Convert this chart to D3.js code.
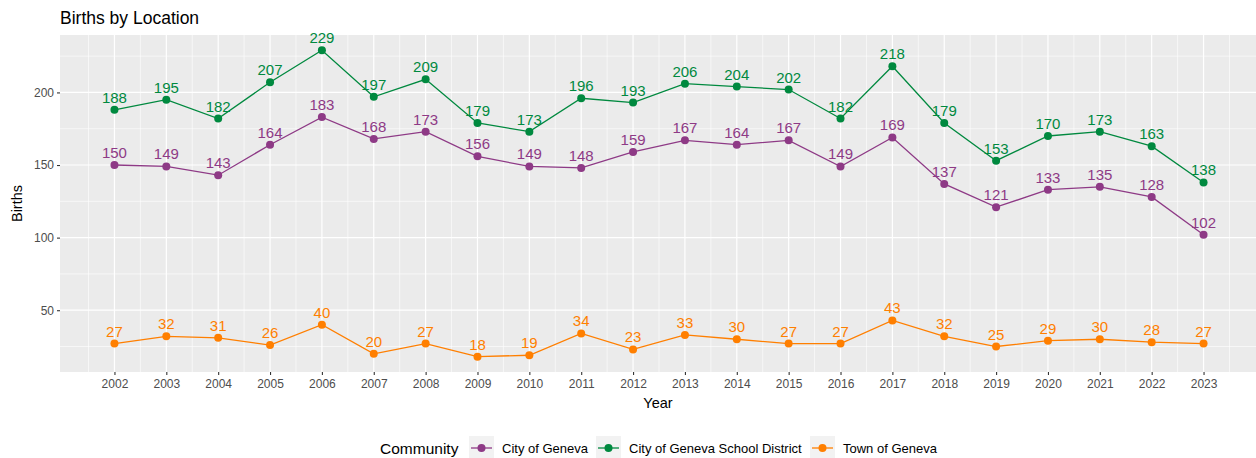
<!DOCTYPE html>
<html>
<head>
<meta charset="utf-8">
<script src="https://cdn.jsdelivr.net/npm/d3@7"></script>
<style>
  body { margin: 0; background: #fff; }
  text { font-family: "Liberation Sans", Arial, sans-serif; }
</style>
</head>
<body>
<svg id="chart" width="1256" height="458"></svg>
<script>
const width = 1256;
const height = 458;

const years = [2002, 2003, 2004, 2005, 2006, 2007, 2008, 2009, 2010, 2011, 2012,
               2013, 2014, 2015, 2016, 2017, 2018, 2019, 2020, 2021, 2022, 2023];
const cityBirths = [150, 149, 143, 164, 183, 168, 173, 156, 149, 148, 159,
                    167, 164, 167, 149, 169, 137, 121, 133, 135, 128, 102];
const districtBirths = [188, 195, 182, 207, 229, 197, 209, 179, 173, 196, 193,
                        206, 204, 202, 182, 218, 179, 153, 170, 173, 163, 138];
const townBirths = [27, 32, 31, 26, 40, 20, 27, 18, 19, 34, 23,
                    33, 30, 27, 27, 43, 32, 25, 29, 30, 28, 27];
const seriesNames = ["City of Geneva", "City of Geneva School District", "Town of Geneva"];
const seriesColors = ["#8e3a86", "#00893f", "#ff7f00"];
const yTicks = [50, 100, 150, 200];

const series = [cityBirths, districtBirths, townBirths].map((vals, i) => ({
    name: seriesNames[i],
    color: seriesColors[i],
    values: years.map((y, j) => ({ year: y, value: vals[j] }))
}));

const panel = { left: 60, right: 1258, top: 35, bottom: 372 };
const svg = d3.select("#chart");

// scales with ggplot style 5% expansion
const allVals = [].concat(cityBirths, districtBirths, townBirths);
const yMin = d3.min(allVals), yMax = d3.max(allVals);
const yPad = (yMax - yMin) * 0.05;
const y = d3.scaleLinear()
    .domain([yMin - yPad, yMax + yPad])
    .range([panel.bottom, panel.top]);
const xPad = (years[years.length - 1] - years[0]) * 0.05;
const x = d3.scaleLinear()
    .domain([years[0] - xPad, years[years.length - 1] + xPad])
    .range([panel.left, panel.right]);

// panel background
svg.append("rect")
    .attr("x", panel.left)
    .attr("y", panel.top)
    .attr("width", panel.right - panel.left)
    .attr("height", panel.bottom - panel.top)
    .attr("fill", "#ebebeb");

const grid = svg.append("g");
// minor gridlines
const yMinor = [25, 75, 125, 175, 225];
grid.selectAll(".ymin").data(yMinor).enter().append("line")
    .attr("x1", panel.left).attr("x2", panel.right)
    .attr("y1", d => y(d)).attr("y2", d => y(d))
    .attr("stroke", "#fff").attr("stroke-width", 0.6);
const xMinor = [years[0] - 0.5].concat(years.map(d => d + 0.5));
grid.selectAll(".xmin").data(xMinor).enter().append("line")
    .attr("y1", panel.top).attr("y2", panel.bottom)
    .attr("x1", d => x(d)).attr("x2", d => x(d))
    .attr("stroke", "#fff").attr("stroke-width", 0.6);
// major gridlines
grid.selectAll(".ymaj").data(yTicks).enter().append("line")
    .attr("x1", panel.left).attr("x2", panel.right)
    .attr("y1", d => y(d)).attr("y2", d => y(d))
    .attr("stroke", "#fff").attr("stroke-width", 1.2);
grid.selectAll(".xmaj").data(years).enter().append("line")
    .attr("y1", panel.top).attr("y2", panel.bottom)
    .attr("x1", d => x(d)).attr("x2", d => x(d))
    .attr("stroke", "#fff").attr("stroke-width", 1.2);

// axes
const xAxis = svg.append("g")
    .attr("transform", `translate(0,${panel.bottom})`)
    .call(d3.axisBottom(x).tickValues(years).tickFormat(d3.format("d")).tickSize(3).tickPadding(4));
const yAxis = svg.append("g")
    .attr("transform", `translate(${panel.left},0)`)
    .call(d3.axisLeft(y).tickValues(yTicks).tickSize(3).tickPadding(3));
[xAxis, yAxis].forEach(a => {
    a.select(".domain").remove();
    a.selectAll(".tick line").attr("stroke", "#333").attr("stroke-width", 1.1);
    a.selectAll(".tick text").attr("fill", "#4d4d4d").style("font-size", "12px")
        .style("font-family", "Liberation Sans, Arial, sans-serif");
});

// lines, points and labels
const line = d3.line().x(d => x(d.year)).y(d => y(d.value));
series.forEach(s => {
    const g = svg.append("g");
    g.append("path")
        .attr("d", line(s.values))
        .attr("fill", "none")
        .attr("stroke", s.color)
        .attr("stroke-width", 1.3);
    g.selectAll("circle").data(s.values).enter().append("circle")
        .attr("cx", d => x(d.year))
        .attr("cy", d => y(d.value))
        .attr("r", 4)
        .attr("fill", s.color);
    g.selectAll("text").data(s.values).enter().append("text")
        .attr("x", d => x(d.year))
        .attr("y", d => y(d.value) - 7)
        .attr("text-anchor", "middle")
        .attr("fill", s.color)
        .style("font-size", "15px")
        .text(d => d.value);
});

// titles
svg.append("text")
    .attr("x", 60).attr("y", 24)
    .style("font-size", "17.5px").attr("fill", "#000")
    .text("Births by Location");
svg.append("text")
    .attr("x", (panel.left + 1256) / 2).attr("y", 408)
    .attr("text-anchor", "middle")
    .style("font-size", "14.5px")
    .text("Year");
svg.append("text")
    .attr("transform", `translate(22,${(panel.top + panel.bottom) / 2}) rotate(-90)`)
    .attr("text-anchor", "middle")
    .style("font-size", "14.5px")
    .text("Births");

// legend
const legend = svg.append("g").attr("transform", "translate(380,448)");
legend.append("text")
    .attr("x", 0).attr("y", 5.5)
    .style("font-size", "15.5px")
    .text("Community");
const legendX = [89, 216, 430];
series.forEach((s, i) => {
    const k = legend.append("g").attr("transform", `translate(${legendX[i]},0)`);
    k.append("rect").attr("x", 0).attr("y", -12).attr("width", 25).attr("height", 24).attr("fill", "#f2f2f2");
    k.append("line").attr("x1", 2).attr("x2", 23).attr("y1", 0).attr("y2", 0)
        .attr("stroke", s.color).attr("stroke-width", 1.3);
    k.append("circle").attr("cx", 12.5).attr("cy", 0).attr("r", 4).attr("fill", s.color);
    k.append("text").attr("x", 33).attr("y", 4.5)
        .style("font-size", "13px").attr("fill", "#000")
        .text(s.name);
});
</script>
</body>
</html>
